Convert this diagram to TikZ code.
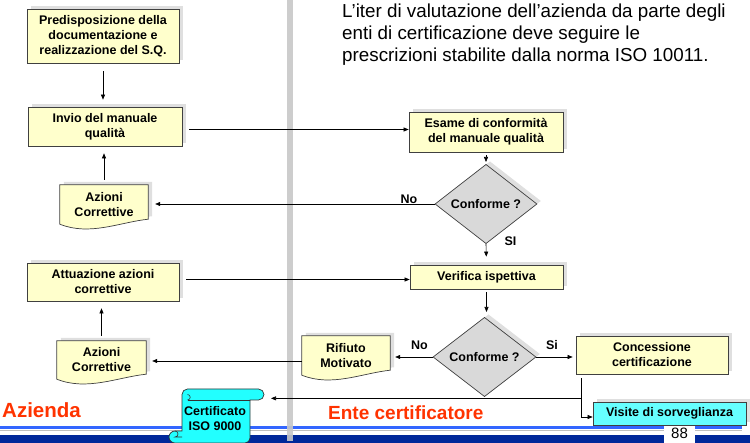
\documentclass[tikz,border=0pt]{standalone}
\usepackage{fontspec}
\setmainfont{Liberation Sans}
\usetikzlibrary{shapes.geometric,shadows,calc,arrows.meta,backgrounds}
\definecolor{boxyellow}{HTML}{FFFFCC}
\definecolor{diagray}{HTML}{D9D9D9}
\definecolor{visitecyan}{HTML}{66FFFF}
\definecolor{certcyan}{HTML}{22FFFF}
\definecolor{bargray}{HTML}{C8C8C8}
\definecolor{blueline}{HTML}{3366FF}
\definecolor{navyband}{HTML}{00289A}
\definecolor{redlabel}{HTML}{FF3300}
\newcommand\bxfont{\bfseries\fontsize{12.5}{15}\selectfont}
\newcommand\docoutline[1]{%
  \path[docshape] (#1.north west) -- (#1.north east) -- ([yshift=5pt]#1.south east)
    .. controls ($(#1.south east)!0.32!(#1.south west)+(0,2)$) and ($(#1.south west)!0.34!(#1.south east)+(0,-12)$) .. (#1.south west) -- cycle;}
\begin{document}
\begin{tikzpicture}[x=1pt,y=1pt,
  shadowed/.style={drop shadow={shadow xshift=4pt,shadow yshift=3pt,opacity=.18,fill=black!70}},
  box/.style={draw=black!75, line width=0.7pt, fill=boxyellow, font=\bxfont, align=center, inner sep=0pt, shadowed},
  dia/.style={box, shape=diamond, fill=diagray},
  docnode/.style={draw=none, fill=none, font=\bxfont, align=center, inner sep=0pt},
  docshape/.style={draw=black!75, line width=0.7pt, fill=boxyellow, shadowed},
  arr/.style={-{Triangle[length=5pt,width=4pt]}, line width=0.6pt},
  lbl/.style={font=\bxfont, inner sep=0pt},
  big/.style={font=\bfseries\fontsize{19}{22}\selectfont, text=redlabel, inner sep=0pt},
]
\useasboundingbox (0,0) rectangle (750,-443);
% bottom bands
\fill[blueline] (0,-425.7) rectangle (742,-429);
\fill[black!25] (0,-429.6) rectangle (742,-430.4);
\fill[navyband] (0,-435) rectangle (750,-443);
\fill[white] (664,-425.5) rectangle (695,-443);
\node[font=\fontsize{15}{15}\selectfont, inner sep=0pt] (pg) at (679.5,-433) {88};
% separator bar
\fill[bargray, opacity=.9] (287,0) rectangle (293,-441);
% title
\node[anchor=north west, align=left, inner sep=0pt, font=\fontsize{18.8}{22}\selectfont] (title) at (342,-4) {L’iter di valutazione dell’azienda da parte degli\\enti di certificazione deve seguire le\\prescrizioni stabilite dalla norma ISO 10011.};
% left column
\node[box, minimum width=152, minimum height=54] (pre) at (103,-36) {Predisposizione della\\documentazione e\\realizzazione del S.Q.};
\node[box, minimum width=154, minimum height=39] (invio) at (105,-126.5) {Invio del manuale\\qualità};
\node[docnode, minimum width=88, minimum height=39] (az1) at (104,-204.5) {Azioni\\Correttive};
\node[box, minimum width=152, minimum height=38] (att) at (103,-282) {Attuazione azioni\\correttive};
\node[docnode, minimum width=89, minimum height=38] (az2) at (101.5,-360) {Azioni\\Correttive};
% right column
\node[box, minimum width=154, minimum height=40] (esame) at (486,-132) {Esame di conformità\\del manuale qualità};
\node[dia, minimum width=102, minimum height=58] (d1) at (486,-204) {Conforme ?};
\node[box, minimum width=153, minimum height=24] (ver) at (486.5,-277) {Verifica ispettiva};
\node[dia, minimum width=103, minimum height=58] (d2) at (484.5,-357) {Conforme ?};
\node[docnode, minimum width=88, minimum height=39] (rif) at (346,-355.5) {Rifiuto\\Motivato};
\node[box, minimum width=152, minimum height=38] (conc) at (652,-355) {Concessione\\certificazione};
\node[box, fill=visitecyan, minimum width=153, minimum height=23] (vis) at (669.5,-413.5) {Visite di sorveglianza};
% document shapes behind their texts
\begin{scope}[on background layer]
  \docoutline{az1}
  \docoutline{az2}
  \docoutline{rif}
\end{scope}
% certificate scroll
\path[draw=black!80, line width=0.7pt, fill=certcyan]
  (187.5,-389) -- (258.5,-389) arc[start angle=90,end angle=-90,radius=5.5]
  -- (250,-400) -- (250,-438) arc[start angle=0,end angle=-90,radius=5]
  -- (175,-443) arc[start angle=-90,end angle=-270,radius=6]
  -- (182,-431) -- (182,-394.5) arc[start angle=180,end angle=90,radius=5.5] -- cycle;
\draw[black!80, line width=0.6pt] (187.5,-400) -- (250,-400);
\draw[black!80, line width=0.6pt] (187.5,-400) arc[start angle=-90,end angle=90,radius=2.75];
\draw[black!80, line width=0.6pt] (175,-431) arc[start angle=90,end angle=-90,radius=3] -- (182,-437);
\node[font=\bxfont, align=center, inner sep=0pt] (cert) at (215,-419) {Certificato\\ISO 9000};
\coordinate (certR) at (264,-398.5);
% labels
\node[big, anchor=base west, font=\bfseries\fontsize{20.5}{22}\selectfont] (azienda) at (2,-418) {Azienda};
\node[big, anchor=base west] (ente) at (328,-420) {Ente certificatore};
\node[lbl] (no1) at (409,-199.5) {No};
\node[lbl] (si1) at (510.5,-241.5) {SI};
\node[lbl] (no2) at (419.5,-345.3) {No};
\node[lbl] (si2) at (552,-345.3) {Si};
% connectors
\draw[arr, shorten <=8pt, shorten >=7pt] (pre.south) -- (pre.south |- invio.north);
\draw[arr, shorten <=5pt, shorten >=7pt] (az1.north) -- (az1.north |- invio.south);
\draw[arr, shorten <=7pt] ([yshift=-3pt]invio.east) -- ([yshift=-3pt]invio.east -| esame.west);
\draw[arr, shorten <=3pt, shorten >=2pt] (esame.south) -- (d1.north);
\draw[arr, shorten >=7pt] (d1.west) -- (d1.west -| az1.east);
\draw[arr, shorten >=8pt] (d1.south) -- (ver.north);
\draw[arr, shorten <=7pt] ([yshift=2.5pt]att.east) -- ([yshift=2.5pt]att.east -| ver.west);
\draw[arr, shorten <=5pt, shorten >=7pt] (az2.north) -- (az2.north |- att.south);
\draw[arr, shorten <=3pt, shorten >=5pt] (ver.south) -- (ver.south |- d2.north);
\draw[arr, shorten >=5pt] (d2.west) -- (d2.west -| rif.east);
\draw[arr, shorten >=6pt] ([yshift=-5.5pt]rif.west) -- ([yshift=-5.5pt]rif.west -| az2.east);
\draw[arr, shorten >=3pt] (d2.east) -- (d2.east -| conc.west);
\draw[arr] ([xshift=6pt,yshift=-4pt]conc.south west) |- ([yshift=-3.5pt]vis.west);
\coordinate (br) at ([xshift=6pt,yshift=-24pt]conc.south west);
\draw[arr, shorten >=7pt] (br) -- (br -| certR);
\end{tikzpicture}
\end{document}
